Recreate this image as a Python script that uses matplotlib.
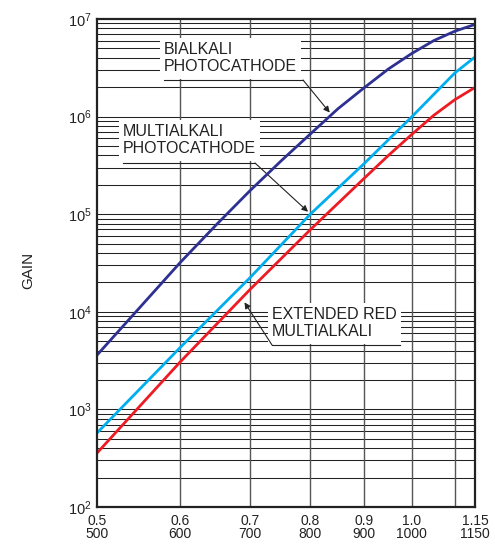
import matplotlib
matplotlib.use("Agg")
import matplotlib.pyplot as plt

plt.rcParams["font.family"] = ["Liberation Sans", "DejaVu Sans"]

# Supply voltage (V) and gain
volts = [500, 550, 600, 650, 700, 750, 800, 850, 900, 950, 1000, 1050, 1100, 1150]
bialkali = [3.6e3, 1.12e4, 3.16e4, 7.75e4, 1.73e5, 3.51e5, 6.63e5, 1.2e6, 1.96e6,
            3.07e6, 4.42e6, 6.0e6, 7.5e6, 8.8e6]

volts_multi = [500, 600, 700, 800, 900, 1000, 1100, 1150]
multialkali = [5.73e2, 4.26e3, 2.22e4, 1.0e5, 3.27e5, 9.9e5, 2.8e6, 4.08e6]

volts_red = [500, 600, 700, 800, 900, 950, 1000, 1050, 1100, 1150]
extended_red = [3.57e2, 3.03e3, 1.68e4, 6.93e4, 2.31e5, 3.99e5, 6.54e5, 1.03e6, 1.49e6, 1.99e6]

xticks = [500, 600, 700, 800, 900, 1000, 1150]
xticklabels = ["0.5\n500", "0.6\n600", "0.7\n700", "0.8\n800", "0.9\n900", "1.0\n1000", "1.15\n1150"]
xgrid = [600, 700, 800, 900, 1000, 1100]
decades = [2, 3, 4, 5, 6, 7]

fig = plt.figure(figsize=(4.95, 5.44), dpi=100)
ax = fig.add_axes([97 / 495, 37 / 544, 378 / 495, 488 / 544])
ax.set_xscale("log")
ax.set_yscale("log")
ax.set_xlim(500, 1150)
ax.set_ylim(1e2, 1e7)

# grid: every 1..9 in each decade, vertical lines every 100 V
for d in decades[:-1]:
    for m in range(1, 10):
        ax.axhline(m * 10 ** d, color="#222222", lw=0.75, zorder=0.5)
for v in xgrid:
    ax.axvline(v, color="#555555", lw=1.0, zorder=0.5)

ax.plot(volts, bialkali, color="#2e3192", lw=2.0, zorder=3)
ax.plot(volts_multi, multialkali, color="#00aeef", lw=2.0, zorder=3)
ax.plot(volts_red, extended_red, color="#ed1c24", lw=2.0, zorder=3)

ax.set_xticks(xticks)
ax.set_xticklabels(xticklabels, fontsize=10, linespacing=0.95)
ax.set_xticks([], minor=True)
ax.set_yticks([10 ** d for d in decades])
ax.set_yticklabels([r"$\mathregular{10^{%d}}$" % d for d in decades], fontsize=10.5)
ax.set_yticks([], minor=True)
ax.tick_params(length=0, colors="#222222")
ax.tick_params(axis="x", pad=5)
ax.tick_params(axis="y", pad=4)
for s in ax.spines.values():
    s.set_linewidth(1.6)
    s.set_color("#222222")
    s.set_zorder(4)

fig.text(28 / 495, 1 - 270 / 544, "GAIN", rotation=90, fontsize=11,
         ha="center", va="center", color="#222222")


def px(x, y):
    return ((x - 97) / 378, (507 - y) / 488)


def label(text, x, y, line_end, lead_start, tip):
    ax.text(*px(x, y), text, transform=ax.transAxes, fontsize=11.5,
            linespacing=1.2, va="top", ha="left", color="#222222", zorder=2,
            bbox=dict(facecolor="white", edgecolor="none", pad=3))
    ax.plot([px(x, 0)[0], px(line_end, 0)[0]], [px(0, lead_start[1])[1]] * 2,
            transform=ax.transAxes, color="#222222", lw=0.8, zorder=2.5)
    ax.annotate("", xy=tip, xycoords="data", xytext=px(*lead_start),
                textcoords="axes fraction",
                arrowprops=dict(arrowstyle="-|>", color="#222222", lw=0.8,
                                mutation_scale=9, shrinkA=0, shrinkB=0),
                zorder=2.5)


label("BIALKALI\nPHOTOCATHODE", 164, 42, 303, (303, 80), (835, 1.1e6))
label("MULTIALKALI\nPHOTOCATHODE", 123, 124, 255, (255, 163), (796, 1.06e5))
label("EXTENDED RED\nMULTIALKALI", 272, 307, 400, (272, 345), (692, 1.25e4))

fig.savefig("out.png", dpi=100)
